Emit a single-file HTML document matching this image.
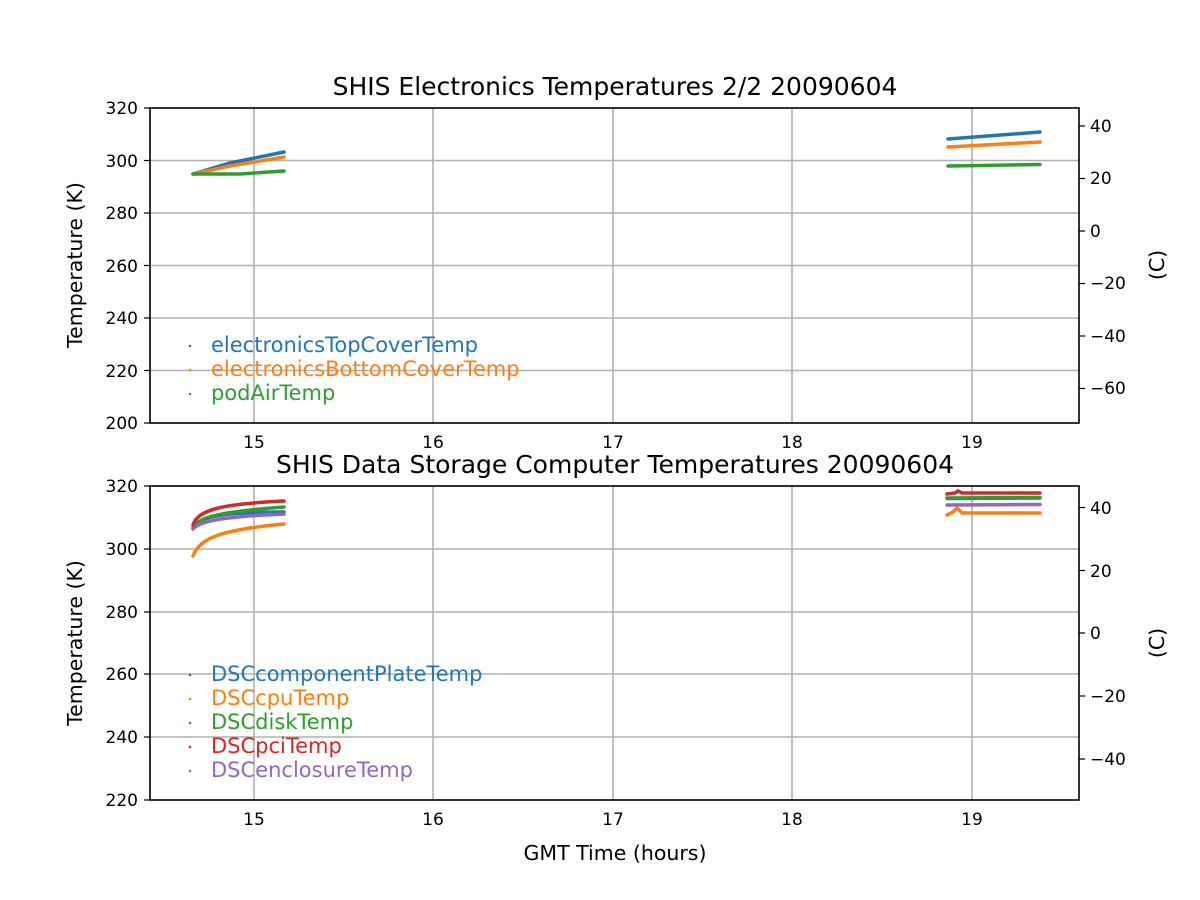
<!DOCTYPE html>
<html><head><meta charset="utf-8"><style>body{margin:0;background:#fff}svg{display:block}text{font-family:"DejaVu Sans","Liberation Sans",sans-serif}</style></head><body>
<svg width="1200" height="900" viewBox="0 0 1200 900">
<rect width="1200" height="900" fill="#fff"/>
<!-- TOP PANEL -->
<g stroke="#b0b0b0" stroke-width="1.6">
<line x1="254" y1="108" x2="254" y2="423"/><line x1="433" y1="108" x2="433" y2="423"/><line x1="613" y1="108" x2="613" y2="423"/><line x1="792" y1="108" x2="792" y2="423"/><line x1="972" y1="108" x2="972" y2="423"/>
<line x1="150" y1="160.5" x2="1079" y2="160.5"/><line x1="150" y1="213" x2="1079" y2="213"/><line x1="150" y1="265.5" x2="1079" y2="265.5"/><line x1="150" y1="318" x2="1079" y2="318"/><line x1="150" y1="370.5" x2="1079" y2="370.5"/>
</g>
<g fill="none" stroke-width="3.5" stroke-linecap="round">
<path d="M193,174 L230,163 L284,152" stroke="#1f77b4"/>
<path d="M193,174 L230,166 L284,157" stroke="#ff7f0e"/>
<path d="M193,174 L240,174 L284,171" stroke="#2ca02c"/>
<path d="M948,139 L1040,132" stroke="#1f77b4"/>
<path d="M948,147 L1040,142" stroke="#ff7f0e"/>
<path d="M948,166 L1040,164.5" stroke="#2ca02c"/>
</g>
<rect x="150" y="108" width="929" height="315" fill="none" stroke="#000" stroke-width="1.6"/>
<g font-size="17" text-anchor="middle">
<text x="254" y="448">15</text><text x="433" y="448">16</text><text x="613" y="448">17</text><text x="792" y="448">18</text><text x="972" y="448">19</text>
</g>
<g font-size="17" text-anchor="end">
<text x="138" y="114">320</text><text x="138" y="167">300</text><text x="138" y="219">280</text><text x="138" y="272">260</text><text x="138" y="324">240</text><text x="138" y="377">220</text><text x="138" y="429">200</text>
</g>
<g stroke="#000" stroke-width="1.2">
<line x1="144" y1="108" x2="150" y2="108"/><line x1="144" y1="160.5" x2="150" y2="160.5"/><line x1="144" y1="213" x2="150" y2="213"/><line x1="144" y1="265.5" x2="150" y2="265.5"/><line x1="144" y1="318" x2="150" y2="318"/><line x1="144" y1="370.5" x2="150" y2="370.5"/><line x1="144" y1="423" x2="150" y2="423"/>
<line x1="1079" y1="126" x2="1085" y2="126"/><line x1="1079" y1="178.5" x2="1085" y2="178.5"/><line x1="1079" y1="231" x2="1085" y2="231"/><line x1="1079" y1="283.5" x2="1085" y2="283.5"/><line x1="1079" y1="336" x2="1085" y2="336"/><line x1="1079" y1="388.5" x2="1085" y2="388.5"/>
</g>
<g font-size="17">
<text x="1090" y="132">40</text><text x="1090" y="184">20</text><text x="1090" y="237">0</text><text x="1090" y="289">−20</text><text x="1090" y="342">−40</text><text x="1090" y="394">−60</text>
</g>
<text x="615" y="95" font-size="25" text-anchor="middle">SHIS Electronics Temperatures 2/2 20090604</text>
<text transform="translate(82,265) rotate(-90)" font-size="20.5" text-anchor="middle">Temperature (K)</text>
<text transform="translate(1164,265) rotate(-90)" font-size="20.5" text-anchor="middle">(C)</text>
<g font-size="21">
<circle cx="190" cy="346" r="1.3" fill="#1f77b4"/><text x="211" y="352" fill="#1f77b4">electronicsTopCoverTemp</text>
<circle cx="190" cy="370" r="1.3" fill="#ff7f0e"/><text x="211" y="376" fill="#ff7f0e">electronicsBottomCoverTemp</text>
<circle cx="190" cy="394" r="1.3" fill="#2ca02c"/><text x="211" y="400" fill="#2ca02c">podAirTemp</text>
</g>
<!-- BOTTOM PANEL -->
<g stroke="#b0b0b0" stroke-width="1.6">
<line x1="254" y1="486" x2="254" y2="800"/><line x1="433" y1="486" x2="433" y2="800"/><line x1="613" y1="486" x2="613" y2="800"/><line x1="792" y1="486" x2="792" y2="800"/><line x1="972" y1="486" x2="972" y2="800"/>
<line x1="150" y1="549" x2="1079" y2="549"/><line x1="150" y1="612" x2="1079" y2="612"/><line x1="150" y1="674" x2="1079" y2="674"/><line x1="150" y1="737" x2="1079" y2="737"/>
</g>
<g fill="none" stroke-width="3.5" stroke-linecap="round">
<path d="M193,528 C198,518 215,512 284,512" stroke="#1f77b4"/>
<path d="M193,556 C200,538 220,530 284,524" stroke="#ff7f0e"/>
<path d="M193,528 C198,518 215,512 284,507" stroke="#2ca02c"/>
<path d="M193,529 C200,521 220,517 284,514" stroke="#9467bd"/>
<path d="M193,525 C198,510 220,504 284,501" stroke="#d62728"/>
<path d="M947,515 L953,512 L957,508 L962,513 L1040,513" stroke="#ff7f0e"/>
<path d="M947,505 L1040,504.5" stroke="#9467bd"/>
<path d="M947,498.5 L1040,498" stroke="#1f77b4"/>
<path d="M947,498 L1040,497.5" stroke="#2ca02c"/>
<path d="M947,494 L955,493 L958,491 L962,493 L1040,493" stroke="#d62728"/>
</g>
<rect x="150" y="486" width="929" height="314" fill="none" stroke="#000" stroke-width="1.6"/>
<g font-size="17" text-anchor="middle">
<text x="254" y="825">15</text><text x="433" y="825">16</text><text x="613" y="825">17</text><text x="792" y="825">18</text><text x="972" y="825">19</text>
</g>
<g font-size="17" text-anchor="end">
<text x="138" y="492">320</text><text x="138" y="555">300</text><text x="138" y="618">280</text><text x="138" y="680">260</text><text x="138" y="743">240</text><text x="138" y="806">220</text>
</g>
<g stroke="#000" stroke-width="1.2">
<line x1="144" y1="486" x2="150" y2="486"/><line x1="144" y1="549" x2="150" y2="549"/><line x1="144" y1="612" x2="150" y2="612"/><line x1="144" y1="674" x2="150" y2="674"/><line x1="144" y1="737" x2="150" y2="737"/><line x1="144" y1="800" x2="150" y2="800"/>
<line x1="1079" y1="507.5" x2="1085" y2="507.5"/><line x1="1079" y1="570.5" x2="1085" y2="570.5"/><line x1="1079" y1="633" x2="1085" y2="633"/><line x1="1079" y1="696" x2="1085" y2="696"/><line x1="1079" y1="759" x2="1085" y2="759"/>
</g>
<g font-size="17">
<text x="1090" y="514">40</text><text x="1090" y="577">20</text><text x="1090" y="639">0</text><text x="1090" y="702">−20</text><text x="1090" y="765">−40</text>
</g>
<text x="615" y="473" font-size="25" text-anchor="middle">SHIS Data Storage Computer Temperatures 20090604</text>
<text x="615" y="860" font-size="20.5" text-anchor="middle">GMT Time (hours)</text>
<text transform="translate(82,643) rotate(-90)" font-size="20.5" text-anchor="middle">Temperature (K)</text>
<text transform="translate(1164,643) rotate(-90)" font-size="20.5" text-anchor="middle">(C)</text>
<g font-size="21">
<circle cx="190" cy="675" r="1.3" fill="#1f77b4"/><text x="211" y="681" fill="#1f77b4">DSCcomponentPlateTemp</text>
<circle cx="190" cy="699" r="1.3" fill="#ff7f0e"/><text x="211" y="705" fill="#ff7f0e">DSCcpuTemp</text>
<circle cx="190" cy="723" r="1.3" fill="#2ca02c"/><text x="211" y="729" fill="#2ca02c">DSCdiskTemp</text>
<circle cx="190" cy="747" r="1.3" fill="#d62728"/><text x="211" y="753" fill="#d62728">DSCpciTemp</text>
<circle cx="190" cy="771" r="1.3" fill="#9467bd"/><text x="211" y="777" fill="#9467bd">DSCenclosureTemp</text>
</g>
</svg>
</body></html>
